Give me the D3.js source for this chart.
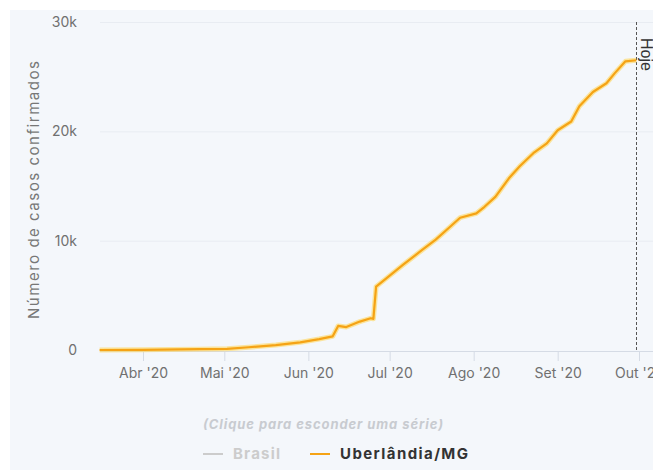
<!DOCTYPE html>
<html>
<head>
<meta charset="utf-8">
<script src="https://cdn.jsdelivr.net/npm/d3@7"></script>
<style>
  body { margin: 0; background: #fff; }
  svg { display: block; font-family: Inter, "Noto Sans", sans-serif; }
</style>
</head>
<body>
<svg id="chart" width="653" height="470"></svg>
<script>
// confirmed cases, Uberlândia/MG
var dates = ["2020-03-16", "2020-04-01", "2020-04-22", "2020-05-02", "2020-05-10",
    "2020-05-20", "2020-05-29", "2020-06-05", "2020-06-10", "2020-06-12", "2020-06-15",
    "2020-06-20", "2020-06-24", "2020-06-25", "2020-06-26", "2020-06-30", "2020-07-06",
    "2020-07-13", "2020-07-18", "2020-07-23", "2020-07-27", "2020-08-02", "2020-08-05",
    "2020-08-09", "2020-08-14", "2020-08-18", "2020-08-23", "2020-08-28", "2020-09-01",
    "2020-09-06", "2020-09-09", "2020-09-14", "2020-09-19", "2020-09-22", "2020-09-26",
    "2020-09-30"];
var cases = [1, 20, 80, 110, 250,
    450, 700, 1000, 1250, 2200, 2100,
    2600, 2900, 2850, 5800, 6600, 7800,
    9150, 10100, 11200, 12100, 12500, 13100,
    14000, 15700, 16800, 18000, 18900, 20100,
    20900, 22300, 23600, 24400, 25300, 26400,
    26500];
var yTicks = [0, 10000, 20000, 30000];
var monthTicks = ["2020-04-01", "2020-05-01", "2020-06-01", "2020-07-01",
    "2020-08-01", "2020-09-01", "2020-10-01"];
var monthNames = ["Jan", "Fev", "Mar", "Abr", "Mai", "Jun", "Jul", "Ago", "Set", "Out", "Nov", "Dez"];
var today = "2020-09-30";
var seriesNames = ["Brasil", "Uberlândia/MG"];

var parse = d3.utcParse("%Y-%m-%d");
var data = dates.map(function(d, i) { return { date: parse(d), v: cases[i] }; });

var svg = d3.select("#chart");

// panel background
svg.append("rect")
    .attr("x", 10).attr("y", 10)
    .attr("width", 660).attr("height", 470)
    .attr("fill", "#f4f7fb");

var x = d3.scaleUtc()
    .domain([parse("2020-04-01"), parse("2020-10-01")])
    .range([143, 639]);
var y = d3.scaleLinear().domain([0, 30000]).range([350, 22]);

var plotLeft = 100, plotRight = 660;

// grid
svg.append("g")
    .selectAll("line")
    .data(yTicks.slice(1))
    .enter().append("line")
    .attr("x1", plotLeft).attr("x2", plotRight)
    .attr("y1", function(d) { return y(d) + 0.5; })
    .attr("y2", function(d) { return y(d) + 0.5; })
    .attr("stroke", "#e8ecf2");

// y labels
svg.append("g")
    .selectAll("text")
    .data(yTicks)
    .enter().append("text")
    .attr("x", 77)
    .attr("y", function(d) { return y(d); })
    .attr("dy", "0.35em")
    .attr("text-anchor", "end")
    .attr("font-size", 14)
    .attr("fill", "#707070")
    .text(function(d) { return d === 0 ? "0" : (d / 1000) + "k"; });

svg.append("text")
    .attr("transform", "translate(39,190) rotate(-90)")
    .attr("text-anchor", "middle")
    .attr("font-size", 15)
    .attr("fill", "#777")
    .attr("textLength", 258)
    .attr("lengthAdjust", "spacing")
    .text("Número de casos confirmados");

// x axis
var xAxis = d3.axisBottom(x)
    .tickValues(monthTicks.map(parse))
    .tickSize(10)
    .tickFormat(function(d) { return monthNames[d.getUTCMonth()] + " '" + String(d.getUTCFullYear()).slice(2); });

var gx = svg.append("g")
    .attr("transform", "translate(0,351)")
    .call(xAxis);
gx.select(".domain").remove();
gx.selectAll(".tick line").attr("stroke", "#d5dbe5");
gx.selectAll(".tick text")
    .attr("font-family", "Inter, 'Noto Sans', sans-serif")
    .attr("font-size", 14)
    .attr("fill", "#707070")
    .attr("dy", "1.0em");
svg.append("line")
    .attr("x1", plotLeft).attr("x2", plotRight)
    .attr("y1", 351.5).attr("y2", 351.5)
    .attr("stroke", "#d5dbe5");

// today line
var tx = Math.round(x(parse(today))) + 0.5;
svg.append("line")
    .attr("x1", tx).attr("x2", tx)
    .attr("y1", 22).attr("y2", 351)
    .attr("stroke", "#555")
    .attr("stroke-dasharray", "3,2");
svg.append("text")
    .attr("transform", "translate(" + (tx + 4) + ",38) rotate(90)")
    .attr("font-family", "'Liberation Sans', Arial, sans-serif")
    .attr("font-size", 16)
    .attr("fill", "#333")
    .text("Hoje");

// series line
var line = d3.line()
    .x(function(d) { return x(d.date); })
    .y(function(d) { return y(d.v); });

svg.append("path")
    .datum(data)
    .attr("d", line)
    .attr("fill", "none")
    .attr("stroke", "#ffd75e")
    .attr("stroke-opacity", 0.6)
    .attr("stroke-width", 5)
    .attr("stroke-linejoin", "round");
svg.append("path")
    .datum(data)
    .attr("d", line)
    .attr("fill", "none")
    .attr("stroke", "#f5a315")
    .attr("stroke-width", 2.2)
    .attr("stroke-linejoin", "round");

// legend
svg.append("text")
    .attr("x", 323).attr("y", 429)
    .attr("text-anchor", "middle")
    .attr("font-size", 13)
    .attr("font-style", "italic")
    .attr("font-weight", "bold")
    .attr("fill", "#c8cbd0")
    .attr("textLength", 240)
    .attr("lengthAdjust", "spacing")
    .text("(Clique para esconder uma série)");

var legend = svg.append("g").attr("transform", "translate(0,454)");
var items = [
    { name: seriesNames[0], x: 203, w: 47, color: "#ccc", text: "#ccc" },
    { name: seriesNames[1], x: 310, w: 128, color: "#f5a315", text: "#333" }
];
var li = legend.selectAll("g").data(items).enter().append("g")
    .attr("transform", function(d) { return "translate(" + d.x + ",0)"; });
li.append("line")
    .attr("x1", 0).attr("x2", 20)
    .attr("y1", 0).attr("y2", 0)
    .attr("stroke", function(d) { return d.color; })
    .attr("stroke-width", 2);
li.append("text")
    .attr("x", 30).attr("dy", "0.35em")
    .attr("font-size", 15)
    .attr("font-weight", "bold")
    .attr("fill", function(d) { return d.text; })
    .attr("textLength", function(d) { return d.w; })
    .attr("lengthAdjust", "spacing")
    .text(function(d) { return d.name; });
</script>
</body>
</html>
